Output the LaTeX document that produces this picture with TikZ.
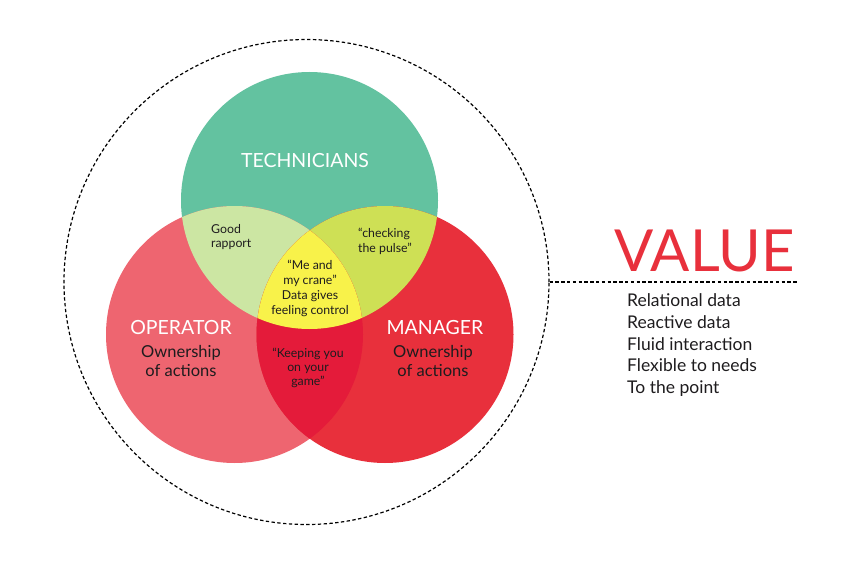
\documentclass[tikz,border=0pt]{standalone}
\usepackage{fontspec}
\setmainfont{Lato}
\definecolor{techgreen}{RGB}{99,194,160}
\definecolor{oppink}{RGB}{238,101,112}
\definecolor{mgrred}{RGB}{232,48,60}
\definecolor{tolight}{RGB}{204,230,163}
\definecolor{tmlime}{RGB}{206,224,85}
\definecolor{omcrimson}{RGB}{228,27,58}
\definecolor{centeryellow}{RGB}{248,242,74}
\definecolor{darktext}{RGB}{30,28,30}
\definecolor{valuered}{RGB}{232,48,60}
\begin{document}
\begin{tikzpicture}[x=1pt,y=-1pt,
  grouplabel/.style={text=white,font=\fontsize{19.5}{22}\selectfont,inner sep=0pt},
  ownlabel/.style={text=darktext,font=\fontsize{16.5}{19}\selectfont,align=center,inner sep=0pt},
  smalllabel/.style={text=darktext,font=\fontsize{12.3}{14.5}\selectfont,inner sep=0pt},
  listitem/.style={text=darktext,font=\fontsize{17.5}{20}\selectfont,anchor=base west,inner sep=0pt},
  dashline/.style={draw=black,line width=1.2pt,dash pattern=on 3.4pt off 2.4pt}]
\useasboundingbox (0,0) rectangle (857,567);
\fill[white] (0,0) rectangle (857,567);
\coordinate (T) at (309.5,200.5);
\coordinate (O) at (234.5,334.5);
\coordinate (M) at (385,334.5);
% base circles
\fill[techgreen] (T) circle (128.5pt);
\fill[oppink] (O) circle (128.5pt);
\fill[mgrred] (M) circle (128.5pt);
% pairwise overlaps
\begin{scope}\clip (T) circle (128.5pt); \fill[tolight] (O) circle (128.5pt); \end{scope}
\begin{scope}\clip (T) circle (128.5pt); \fill[tmlime] (M) circle (128.5pt); \end{scope}
\begin{scope}\clip (O) circle (128.5pt); \fill[omcrimson] (M) circle (128.5pt); \end{scope}
% triple overlap
\begin{scope}\clip (T) circle (128.5pt); \clip (O) circle (128.5pt); \fill[centeryellow] (M) circle (128.5pt); \end{scope}
% dashed outer circle and connector
\node[circle,dashline,minimum size=485pt,inner sep=0pt] (outer) at (306.5,282) {};
\coordinate (lineend) at (798,282);
\draw[dashline] (outer.east) -- (lineend);
% labels
\node[grouplabel] (tech) at (305,161) {TECHNICIANS};
\node[grouplabel] (oper) at (181,328) {OPERATOR};
\node[grouplabel] (mgr) at (435,328) {MANAGER};
\node[ownlabel] (operown) at (181,360.5) {Ownership\\of actions};
\node[ownlabel] (mgrown) at (433,360.5) {Ownership\\of actions};
\node[smalllabel,align=left,anchor=west] (rapport) at (211,237) {Good\\rapport};
\node[smalllabel,align=left,anchor=west] (pulse) at (358,241.5) {“checking\\the pulse”};
\node[smalllabel,align=center,font=\fontsize{12.3}{15}\selectfont] (crane) at (310,288.5) {“Me and\\my crane”\\Data gives\\feeling control};
\node[smalllabel,align=center,font=\fontsize{12.3}{14}\selectfont] (keeping) at (308,368) {“Keeping you\\on your\\game”};
\node[text=valuered,font=\fontsize{58}{60}\selectfont,anchor=base,inner sep=0pt] (value) at (704.5,271) {VALUE};
\node[listitem] (l1) at (627,306.7) {Relational data};
\node[listitem] (l2) at (627,328.3) {Reactive data};
\node[listitem] (l3) at (627,350) {Fluid interaction};
\node[listitem] (l4) at (627,371.7) {Flexible to needs};
\node[listitem] (l5) at (627,393.3) {To the point};
\end{tikzpicture}
\end{document}
